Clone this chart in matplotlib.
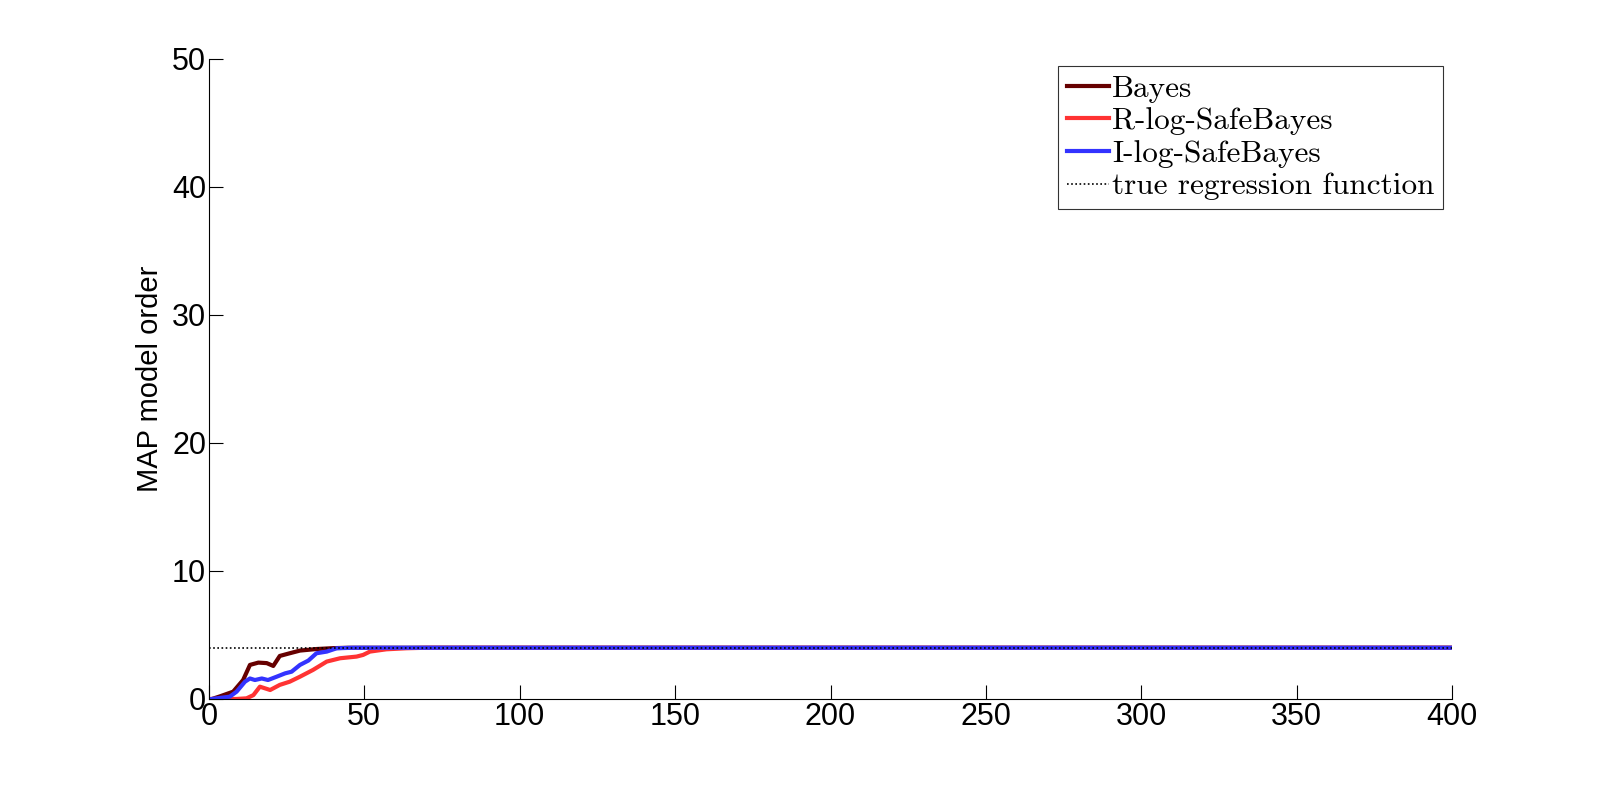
import matplotlib
matplotlib.use("Agg")
import matplotlib.pyplot as plt

# Data
bayes_x = [1, 3.5, 7.8, 11, 13.2, 15.9, 18.6, 20.7, 22.8, 26, 29.3, 34.6, 40, 45, 400]
bayes_y = [0, 0.2, 0.57, 1.48, 2.66, 2.84, 2.8, 2.58, 3.36, 3.57, 3.78, 3.9, 3.97, 4.0, 4.0]

rlog_x = [1, 8.9, 12.1, 14.3, 16.4, 19.7, 22.8, 26, 29.3, 33.5, 37.9, 42.2, 47.5, 49.6, 51.8, 57.1, 63.5, 69.9, 400]
rlog_y = [0, 0, 0.05, 0.3, 0.96, 0.7, 1.1, 1.35, 1.74, 2.27, 2.92, 3.18, 3.31, 3.44, 3.7, 3.88, 3.96, 4.0, 4.0]

ilog_x = [1, 6.7, 8.9, 11.6, 13.2, 14.8, 17, 19, 21.8, 24.5, 26.6, 29.3, 32, 34.6, 37.9, 41.1, 46.5, 400]
ilog_y = [0, 0.18, 0.57, 1.35, 1.6, 1.48, 1.6, 1.48, 1.74, 2.0, 2.13, 2.66, 3.0, 3.57, 3.7, 3.96, 4.0, 4.0]

true_x = [0, 400]
true_y = [4, 4]

x_ticks = [0, 50, 100, 150, 200, 250, 300, 350, 400]
y_ticks = [0, 10, 20, 30, 40, 50]

fig = plt.figure(figsize=(16.01, 7.85), dpi=100)
ax = fig.add_axes([0.1305, 0.1096, 0.7765, 0.8154])

ax.plot(bayes_x, bayes_y, color="#660000", lw=3, label="Bayes")
ax.plot(rlog_x, rlog_y, color="#FF3333", lw=3, label="R-log-SafeBayes")
ax.plot(ilog_x, ilog_y, color="#3333FF", lw=3, label="I-log-SafeBayes")
ax.plot(true_x, true_y, color="black", lw=1.2, ls=(0, (1, 1.5)), label="true regression function")

ax.set_xlim(0, 400)
ax.set_ylim(0, 50)
ax.set_xticks(x_ticks)
ax.set_yticks(y_ticks)
ax.spines["top"].set_visible(False)
ax.spines["right"].set_visible(False)
ax.tick_params(direction="in", length=10, width=0.8, labelsize=22, pad=2)
for lbl in ax.get_xticklabels() + ax.get_yticklabels():
    lbl.set_family("Liberation Sans")
ax.set_ylabel("MAP model order", fontsize=21, family="Liberation Sans", labelpad=6)

leg = ax.legend(loc="upper right", bbox_to_anchor=(0.993, 0.989),
                prop={"family": "cmr10", "size": 22.5},
                frameon=True, fancybox=False, edgecolor="black",
                handlelength=1.35, handletextpad=0.1, borderpad=0.28,
                labelspacing=0.15, borderaxespad=0)
leg.get_frame().set_linewidth(0.8)

fig.savefig("out.png", dpi=100)
